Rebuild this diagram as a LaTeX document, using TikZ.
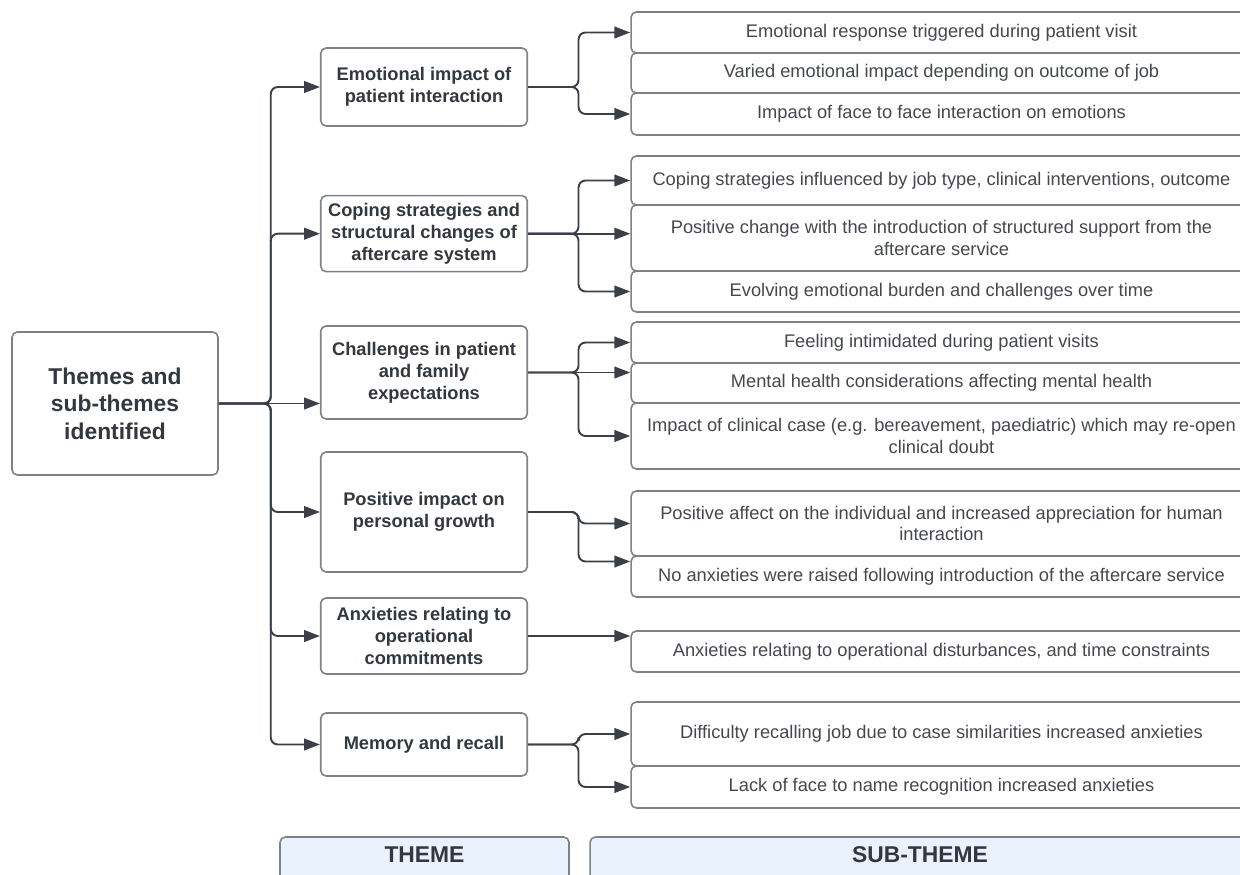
\documentclass[tikz,border=0pt]{standalone}
\usepackage{fontspec}
\setmainfont{Liberation Sans}
\usetikzlibrary{arrows.meta}

\definecolor{linegray}{HTML}{3B4048}
\definecolor{boxgray}{HTML}{7E8288}
\definecolor{textdark}{HTML}{33373E}
\definecolor{textgray}{HTML}{44484E}
\definecolor{legendblue}{HTML}{EAF2FD}

\begin{document}
\begin{tikzpicture}[x=0.02cm,y=-0.02cm,
    box/.style ={rectangle, rounded corners=3pt, draw=boxgray, line width=0.9pt, align=center},
    root/.style ={box, minimum width=4.12cm, minimum height=2.86cm, text=textdark,
                  font=\fontsize{13}{15.6}\selectfont\bfseries},
    theme/.style ={box, minimum width=4.13cm, text=textdark,
                   font=\fontsize{10.4}{12.5}\selectfont\bfseries},
    subtheme/.style ={box, minimum width=12.42cm, text=textgray,
                      font=\fontsize{10.4}{12.3}\selectfont},
    legend/.style ={box, fill=legendblue, anchor=base, inner ysep=3pt, text height=11.5pt,
                    text depth=12pt, text=textdark, font=\fontsize{13}{15}\selectfont\bfseries},
    link/.style ={draw=linegray, line width=1.1pt, rounded corners=4pt,
                  -{Triangle[length=9pt,width=6.6pt]}}]
   \clip (0,0) rectangle (1240,875);

   \node[root] (R)  at (115,403.5)  {Themes and\\sub-themes\\identified};

   \node[theme, minimum height=1.56cm] (T1)  at (424,87)  {Emotional impact of\\patient interaction};
   \node[theme, minimum height=1.52cm] (T2)  at (424,233.7)  {Coping strategies and\\structural changes of\\aftercare system};
   \node[theme, minimum height=1.86cm] (T3)  at (424,372.5)  {Challenges in patient\\and family\\expectations};
   \node[theme, minimum height=2.4cm] (T4)  at (424,512)  {Positive impact on\\personal growth};
   \node[theme, minimum height=1.52cm] (T5)  at (424,636)  {Anxieties relating to\\operational\\commitments};
   \node[theme, minimum height=1.26cm] (T6)  at (424,744.5)  {Memory and recall};

   \node[subtheme, minimum height=0.82cm] (S1a)  at (941.5,32.5)  {Emotional response triggered during patient visit};
   \node[subtheme, minimum height=0.8cm] (S1b)  at (941.5,73)  {Varied emotional impact depending on outcome of job};
   \node[subtheme, minimum height=0.84cm] (S1c)  at (941.5,114)  {Impact of face to face interaction on emotions};
   \node[subtheme, minimum height=0.98cm] (S2a)  at (941.5,180.5)  {Coping strategies influenced by job type, clinical interventions, outcome};
   \node[subtheme, minimum height=1.32cm] (S2b)  at (941.5,238)  {Positive change with the introduction of structured support from the\\aftercare service};
   \node[subtheme, minimum height=0.82cm] (S2c)  at (941.5,291.5)  {Evolving emotional burden and challenges over time};
   \node[subtheme, minimum height=0.82cm] (S3a)  at (941.5,342.5)  {Feeling intimidated during patient visits};
   \node[subtheme, minimum height=0.8cm] (S3b)  at (941.5,383)  {Mental health considerations affecting mental health};
   \node[subtheme, minimum height=1.32cm] (S3c)  at (941.5,436)  {Impact of clinical case (e.g. bereavement, paediatric) which may re-open\\clinical doubt};
   \node[subtheme, minimum height=1.3cm] (S4a)  at (941.5,523.5)  {Positive affect on the individual and increased appreciation for human\\interaction};
   \node[subtheme, minimum height=0.82cm] (S4b)  at (941.5,576.5)  {No anxieties were raised following introduction of the aftercare service};
   \node[subtheme, minimum height=0.82cm] (S5a)  at (941.5,651.5)  {Anxieties relating to operational disturbances, and time constraints};
   \node[subtheme, minimum height=1.28cm] (S6a)  at (941.5,734)  {Difficulty recalling job due to case similarities increased anxieties};
   \node[subtheme, minimum height=0.84cm] (S6b)  at (941.5,787)  {Lack of face to name recognition increased anxieties};

   \node[legend, minimum width=5.78cm] (L1)  at (424.5,862.5)  {THEME};
   \node[legend, minimum width=13.2cm] (L2)  at (920,862.5)  {SUB-THEME};

   \draw[link] (R.east) -- ++(52,0) |- (T1.west);
   \draw[link] (R.east) -- ++(52,0) |- (T2.west);
   \draw[link] (R.east) -- (T3.west |- R.east);
   \draw[link] (R.east) -- ++(52,0) |- (T4.west);
   \draw[link] (R.east) -- ++(52,0) |- (T5.west);
   \draw[link] (R.east) -- ++(52,0) |- (T6.west);

   \draw[link] (T1.east) -- ++(50.5,0) |- (S1a.west);
   \draw[link] (T1.east) -- ++(50.5,0) |- (S1c.west);
   \draw[link] (T2.east) -- ++(50.5,0) |- (S2a.west);
   \draw[link] (T2.east) -- (S2b.west |- T2.east);
   \draw[link] (T2.east) -- ++(50.5,0) |- (S2c.west);
   \draw[link] (T3.east) -- ++(50.5,0) |- (S3a.west);
   \draw[link] (T3.east) -- (S3b.west |- T3.east);
   \draw[link] (T3.east) -- ++(50.5,0) |- (S3c.west);
   \draw[link] (T4.east) -- ++(50.5,0) |- (S4a.west);
   \draw[link] (T4.east) -- ++(50.5,0) |- ([yshift=0.3cm]S4b.west);
   \draw[link] (T5.east) -- (S5a.west |- T5.east);
   \draw[link] (T6.east) -- ++(50.5,0) |- (S6a.west);
   \draw[link] (T6.east) -- ++(50.5,0) |- (S6b.west);
 \end{tikzpicture}
\end{document}
